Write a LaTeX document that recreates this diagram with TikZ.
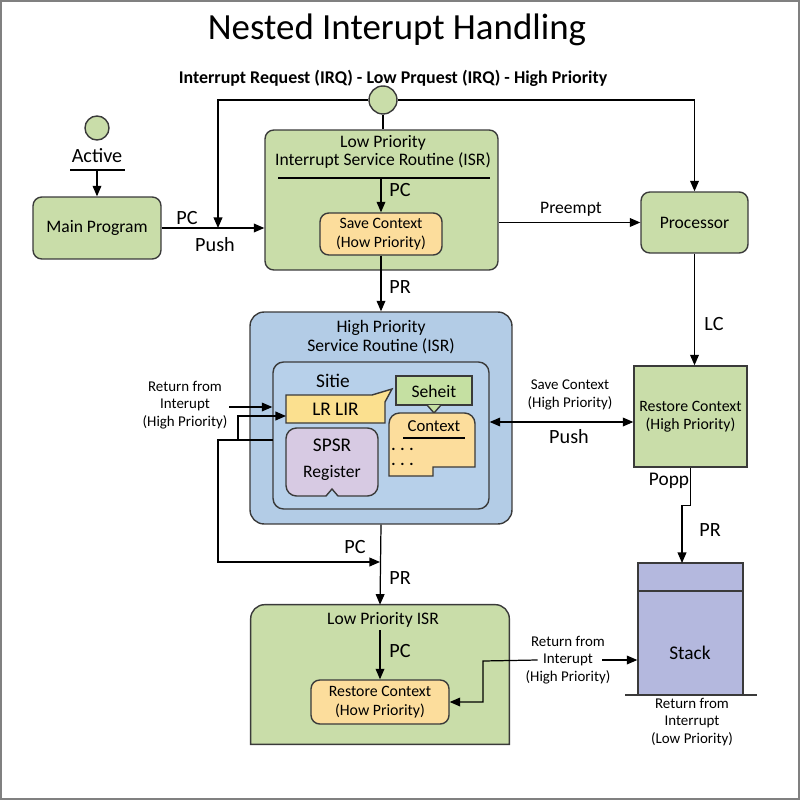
\documentclass[tikz,border=0pt]{standalone}
\usepackage{fontspec}
\setmainfont{Carlito}
\usetikzlibrary{positioning,arrows.meta}
\definecolor{edgegray}{HTML}{3A3A3A}
\definecolor{lowgreen}{HTML}{C9DDA9}
\definecolor{highblue}{HTML}{B3CCE6}
\definecolor{innerblue}{HTML}{B7D0EA}
\definecolor{ctxorange}{HTML}{FCDD9C}
\definecolor{tagyellow}{HTML}{FBE08F}
\definecolor{taggreen}{HTML}{C5E0A2}
\definecolor{regpurple}{HTML}{D7CAE3}
\definecolor{stackblue}{HTML}{B4B8DE}
\tikzset{
	box/.style={draw=edgegray, line width=0.8pt, align=center, inner sep=0pt},
	greenbox/.style={box, fill=lowgreen, rounded corners=5pt},
	ctxbox/.style={box, fill=ctxorange, rounded corners=5pt, font=\fontsize{9}{10.5}\selectfont},
	lbl/.style={font=\fontsize{10}{12}\selectfont, inner sep=1pt},
	biglbl/.style={font=\fontsize{11.5}{13}\selectfont, inner sep=1pt},
	smalllbl/.style={font=\fontsize{8.5}{10}\selectfont, align=center, inner sep=1pt},
	flow/.style={draw=black, line width=0.7pt, -{Triangle[length=6pt,width=5pt]}},
	twoway/.style={draw=black, line width=0.7pt, {Triangle[length=6pt,width=5pt]}-{Triangle[length=6pt,width=5pt]}},
	wire/.style={draw=black, line width=0.7pt}
}

\begin{document}
\begin{tikzpicture}[x=0.02cm, y=-0.02cm]
	\useasboundingbox (0,0) rectangle (800,800);
	\draw[gray, line width=0.8pt] (1,1) rectangle (799,799);
	
	% title and request line
	\node (title) at (397,30) {\fontsize{21}{23}\selectfont Nested Interupt Handling};
	\node[font=\bfseries\fontsize{10.2}{12}\selectfont] (irqtext) at (393,78) {Interrupt Request (IRQ) - Low Prquest (IRQ) - High Priority};
	\node[box, circle, fill=lowgreen, minimum size=0.56cm] (irq) at (383,100) {};
	
	% main program side
	\node[box, circle, fill=lowgreen, minimum size=0.48cm] (active) at (97,128) {};
	\node[biglbl] (activetext) at (97,156) {Active};
	\coordinate (activebar) at (97,170);
	\draw[wire] (70,170) -- (125,170);
	\node[greenbox, lbl, minimum width=2.56cm, minimum height=1.24cm] (main) at (97,228) {Main Program};
	
	% low priority isr
	\node[greenbox, minimum width=4.66cm, minimum height=2.8cm] (lowisr) at (381.5,200) {};
	\node[lbl, align=center, font=\fontsize{10}{10.5}\selectfont] (lowisrtitle) at (383,152) {Low Priority\\Interrupt Service Routine (ISR)};
	\coordinate (lowbar) at (381,178);
	\draw[wire] (278,178) -- (490,178);
	\node[ctxbox, minimum width=2.44cm, minimum height=0.84cm] (save) at (381,234) {Save Context\\(How Priority)};
	
	\node[greenbox, lbl, minimum width=2.14cm, minimum height=1.22cm] (proc) at (694.5,222.5) {Processor};
	
	% high priority isr
	\node[box, fill=highblue, rounded corners=8pt, minimum width=5.24cm, minimum height=4.24cm] (highisr) at (381,418) {};
	\node[lbl, align=center, font=\fontsize{10}{10.5}\selectfont] (highisrtitle) at (381,337) {High Priority\\Service Routine (ISR)};
	\node[box, fill=innerblue, rounded corners=6pt, minimum width=4.32cm, minimum height=2.94cm] (inner) at (381,435.5) {};
	\node[lbl, font=\fontsize{11}{12}\selectfont] (sitie) at (333,381) {Sitie};
	
	\node[minimum width=1.98cm, minimum height=0.56cm, inner sep=0pt] (lrlir) at (335.5,409) {};
	\draw[draw=edgegray, line width=0.8pt, fill=tagyellow] (286,395) -- (372,395) -- (392,389) -- (385,402) -- (385,423) -- (286,423) -- cycle;
	\node[font=\fontsize{11}{12}\selectfont] at (lrlir) {LR LIR};
	
	\draw[draw=edgegray, line width=0.8pt, fill=taggreen] (396,376) rectangle (472,405);
	\node[lbl] (seheit) at (434,391) {Seheit};
	\draw[draw=edgegray, line width=0.8pt, fill=taggreen] (427,405) -- (434,413) -- (441,405);
	
	\draw[draw=edgegray, line width=0.8pt, fill=ctxorange, rounded corners=6pt] (389,476) -- (389,413) -- (475,413) [sharp corners] -- (475,467) -- (433,467) -- (433,476) -- cycle;
	\node[lbl, font=\fontsize{9.5}{11}\selectfont] (context) at (434,426) {Context};
	\draw[wire] (403,438) -- (465,438);
	\node[font=\bfseries\fontsize{9}{10}\selectfont, anchor=west, inner sep=0pt] (dotsa) at (391,449) {. . .};
	\node[font=\bfseries\fontsize{9}{10}\selectfont, anchor=west, inner sep=0pt] (dotsb) at (391,464) {. . .};
	
	\draw[draw=edgegray, line width=0.8pt, fill=regpurple, rounded corners=6pt] (286,428) -- (378,428) -- (378,496) [sharp corners] -- (338,496) -- (332,489) -- (326,496) [rounded corners=6pt] -- (286,496) -- cycle;
	\node[font=\fontsize{11}{12}\selectfont] (spsr) at (332,445) {SPSR};
	\node[lbl] (register) at (332,473) {Register};
	
	\node[smalllbl] (rethigh) at (185,405) {Return from\\Interupt\\(High Priority)};
	
	% restore side
	\node[box, fill=lowgreen, font=\fontsize{9}{10.5}\selectfont, minimum width=2.26cm, minimum height=2.02cm] (resthigh) at (690.5,416.5) {Restore Context\\(High Priority)};
	\node[box, fill=stackblue, minimum width=2.1cm, minimum height=2.64cm] (stack) at (690.5,629) {};
	\draw[draw=edgegray, line width=0.8pt] (638,591) -- (743,591);
	\draw[draw=edgegray, line width=0.8pt] (625,695) -- (757,695);
	\node[font=\fontsize{11}{12}\selectfont] (stacktext) at (690,653) {Stack};
	\node[smalllbl] (retlow) at (692,722) {Return from\\Interrupt\\(Low Priority)};
	\coordinate (stackin) at (682,563);
	
	% low priority isr (bottom)
	\node[minimum width=5.16cm, minimum height=2.78cm, inner sep=0pt] (lowisrb) at (380,674.5) {};
	\draw[draw=edgegray, line width=0.8pt, fill=lowgreen] (lowisrb.south west) [rounded corners=8pt] -- (lowisrb.north west) -- (lowisrb.north east) [sharp corners] -- (lowisrb.south east) -- cycle;
	\node[lbl] (lowisrbtitle) at (383,620) {Low Priority ISR};
	\coordinate (lowbbar) at (380,630);
	\node[ctxbox, minimum width=2.76cm, minimum height=0.88cm] (restlow) at (380,702) {Restore Context\\(How Priority)};
	\node[smalllbl] (retstack) at (568,660) {Return from\\Interupt\\(High Priority)};
	\coordinate (pcjoin) at (380,562);
	\coordinate (pushjoin) at (218,228);
	
	% connectors
	\draw[flow] (irq.west) -| (pushjoin);
	\draw[flow] (irq.east) -| (proc.north);
	\draw[wire] (irq.south) -- (irq.south |- lowisr.north);
	\draw[flow] (activebar) -- (main.north);
	\draw[flow] (main.east) -- (main.east -| lowisr.west);
	\node[biglbl] (pclbl) at (187,218) {PC};
	\node[biglbl] (pushlbl) at (215,245) {Push};
	\draw[flow] (lowbar) -- (save.north);
	\node[biglbl] (pclblb) at (400,190) {PC};
	\draw[flow] (proc.west -| lowisr.east) -- (proc.west);
	\node[lbl] (preempt) at (571,209) {Preempt};
	\draw[flow] (save.south) -- (highisr.north);
	\node[biglbl] (prlbl) at (400,287) {PR};
	\draw[flow] (proc.south) -- (proc.south |- resthigh.north);
	\node[biglbl] (lclbl) at (714,324) {LC};
	\draw[twoway] (inner.east |- 0,422) -- (resthigh.west |- 0,422);
	\node[smalllbl] (savehigh) at (570,395) {Save Context\\(High Priority)};
	\node[biglbl] (pushlblb) at (569,437) {Push};
	\draw[flow] (resthigh.south) -- ++(0,38) -| (stackin);
	\node[lbl, font=\fontsize{11}{12}\selectfont] (popp) at (669,481) {Popp};
	\node[biglbl] (prlblb) at (710,530) {PR};
	\draw[flow] (rethigh.east |- 0,407) -- (inner.west |- 0,407);
	\draw[flow] (238,440) |- (286,416);
	\draw[flow] (273,440) -- (218,440) |- (pcjoin);
	\draw[flow] (highisr.south) -- (lowisrb.north);
	\node[biglbl] (pclblc) at (355,547) {PC};
	\node[biglbl] (prlblc) at (400,578) {PR};
	\draw[flow] (lowbbar) -- (restlow.north);
	\node[biglbl] (pclbld) at (400,651) {PC};
	\draw[flow] ([xshift=0.28cm]retstack.west) -- (483,661) |- (restlow.east);
	\draw[flow] ([xshift=-0.2cm]retstack.east) -- (retstack.east -| stack.west);
\end{tikzpicture}
\end{document}
